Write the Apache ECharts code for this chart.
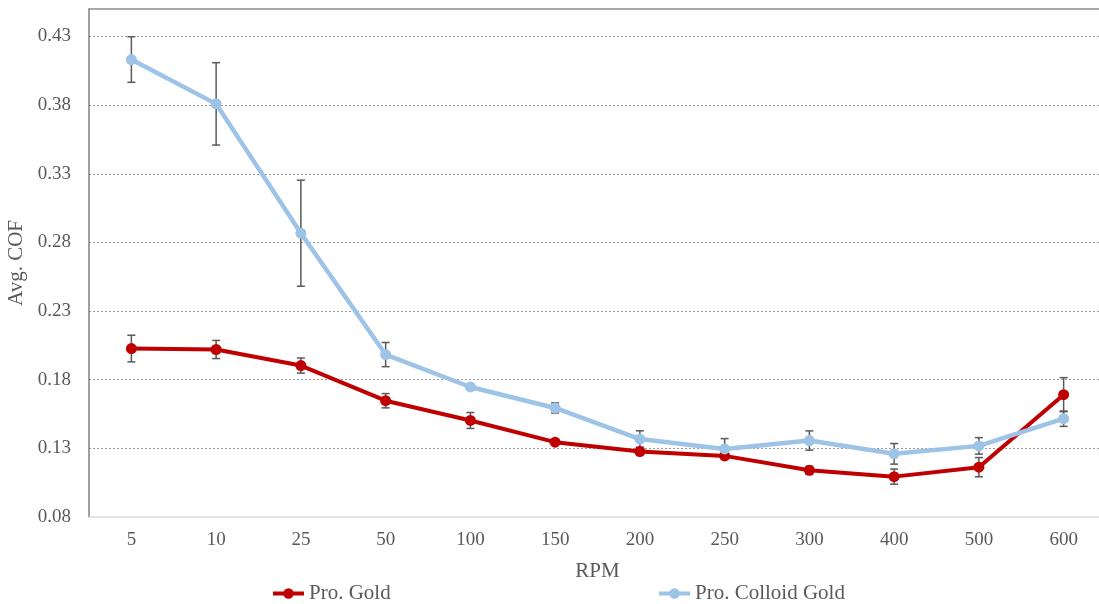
<!DOCTYPE html>
<html>
<head>
<meta charset="utf-8">
<script src="https://cdn.jsdelivr.net/npm/echarts@6/dist/echarts.min.js"></script>
<style>
  html, body { margin: 0; padding: 0; background: #fff; }
  #chart { width: 1099px; height: 604px; }
</style>
</head>
<body>
<div id="chart"></div>
<script>
// Rotational speed categories
const rpm = ['5', '10', '25', '50', '100', '150', '200', '250', '300', '400', '500', '600'];

// Average coefficient of friction and standard deviation per speed
const goldCof = [0.2027, 0.2020, 0.1903, 0.1647, 0.1503, 0.1345, 0.1277, 0.1245, 0.1140, 0.1094, 0.1163, 0.1691];
const goldErr = [0.0097, 0.0066, 0.0055, 0.0052, 0.0058, 0.0015, 0.0018, 0.0015, 0.0030, 0.0055, 0.0070, 0.0124];
const colloidCof = [0.4132, 0.3809, 0.2867, 0.1983, 0.1747, 0.1594, 0.1368, 0.1296, 0.1357, 0.1260, 0.1318, 0.1516];
const colloidErr = [0.0166, 0.0300, 0.0386, 0.0088, 0.0020, 0.0037, 0.0060, 0.0075, 0.0070, 0.0075, 0.0060, 0.0056];

// Y axis ticks
const yMin = 0.08, yMax = 0.45, yStep = 0.05;

const serif = '"Liberation Serif", "Times New Roman", serif';
const textGrey = '#595959';

function errorData(vals, errs) {
  return vals.map((v, i) => [i, v - errs[i], v + errs[i]]);
}

function renderErrorBar(params, api) {
  const x = api.value(0);
  const lo = api.coord([x, api.value(1)]);
  const hi = api.coord([x, api.value(2)]);
  const half = 4;
  const style = { stroke: '#595959', lineWidth: 1.5 };
  return {
    type: 'group',
    children: [
      { type: 'line', shape: { x1: lo[0], y1: lo[1], x2: hi[0], y2: hi[1] }, style: style },
      { type: 'line', shape: { x1: hi[0] - half, y1: hi[1], x2: hi[0] + half, y2: hi[1] }, style: style },
      { type: 'line', shape: { x1: lo[0] - half, y1: lo[1], x2: lo[0] + half, y2: lo[1] }, style: style }
    ]
  };
}

const chart = echarts.init(document.getElementById('chart'), null, { renderer: 'canvas' });

const legendText = { fontFamily: serif, fontSize: 21, color: textGrey };

chart.setOption({
  animation: false,
  backgroundColor: '#fff',
  grid: {
    left: 89, top: 9, width: 1017, height: 508,
    outerBoundsMode: 'none',
    containLabel: false
  },
  legend: [
    {
      data: ['Pro. Gold'], left: 271, top: 583, padding: 0,
      itemWidth: 31, itemHeight: 13,
      lineStyle: { width: 4 },
      textStyle: legendText
    },
    {
      data: ['Pro. Colloid Gold'], left: 657, top: 583, padding: 0,
      itemWidth: 31, itemHeight: 13,
      lineStyle: { width: 4 },
      textStyle: legendText
    }
  ],
  xAxis: [
    {
      type: 'category',
      data: rpm,
      boundaryGap: true,
      name: 'RPM',
      nameLocation: 'middle',
      nameGap: 44,
      nameTextStyle: { fontFamily: serif, fontSize: 21, color: textGrey },
      axisLine: { lineStyle: { color: '#d9d9d9', width: 1.5 } },
      axisTick: { show: false },
      axisLabel: { fontFamily: serif, fontSize: 19, color: textGrey, margin: 14 },
      splitLine: { show: false }
    },
    {
      // plot frame along the top edge
      type: 'category',
      data: rpm,
      position: 'top',
      axisLine: { show: true, lineStyle: { color: '#8c8c8c', width: 1.5 } },
      axisTick: { show: false },
      axisLabel: { show: false },
      splitLine: { show: false }
    }
  ],
  yAxis: {
    type: 'value',
    min: yMin, max: yMax, interval: yStep,
    name: 'Avg. COF',
    nameLocation: 'middle',
    nameGap: 50,
    nameTextStyle: { fontFamily: serif, fontSize: 21, color: textGrey },
    axisLine: { show: true, lineStyle: { color: '#808080', width: 1.5 } },
    axisTick: { show: false },
    axisLabel: {
      fontFamily: serif, fontSize: 19, color: textGrey, margin: 18,
      showMaxLabel: false,
      formatter: v => v.toFixed(2)
    },
    splitLine: {
      showMinLine: false,
      showMaxLine: false,
      lineStyle: { color: '#9a9a9a', type: [2, 2], width: 1 }
    }
  },
  series: [
    {
      name: 'Pro. Gold SD', type: 'custom', z: 1,
      renderItem: renderErrorBar,
      data: errorData(goldCof, goldErr),
      silent: true
    },
    {
      name: 'Pro. Colloid Gold SD', type: 'custom', z: 1,
      renderItem: renderErrorBar,
      data: errorData(colloidCof, colloidErr),
      silent: true
    },
    {
      name: 'Pro. Gold', type: 'line', z: 2,
      data: goldCof,
      symbol: 'circle', symbolSize: 11,
      lineStyle: { color: '#C00000', width: 4 },
      itemStyle: { color: '#C00000' }
    },
    {
      name: 'Pro. Colloid Gold', type: 'line', z: 3,
      data: colloidCof,
      symbol: 'circle', symbolSize: 11,
      lineStyle: { color: '#9DC3E6', width: 4.5 },
      itemStyle: { color: '#9DC3E6' }
    }
  ]
});
</script>
</body>
</html>
